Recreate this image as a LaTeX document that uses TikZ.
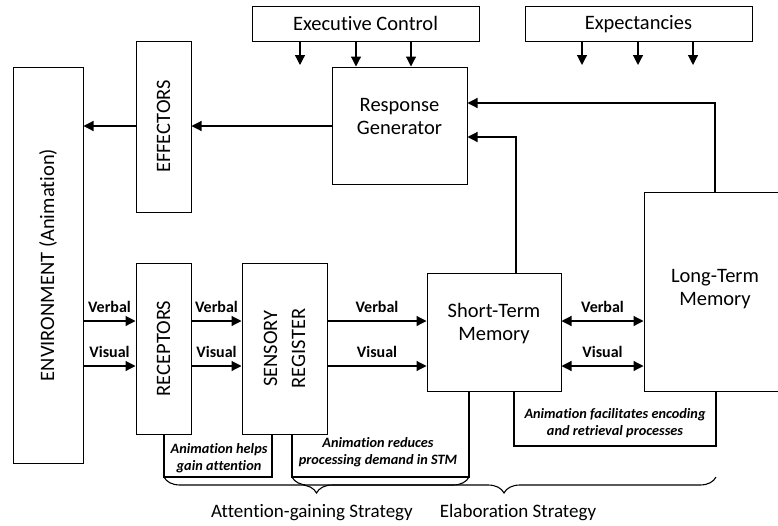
\documentclass[tikz,border=0pt]{standalone}
\usepackage{fontspec}
\setmainfont{Carlito}[Ligatures=NoCommon]
\usetikzlibrary{arrows.meta,decorations.pathreplacing}
\tikzset{
  box/.style={draw, line width=1pt, inner sep=0pt, fill=white},
  lbl/.style={font=\fontsize{20.5}{23.5}\selectfont, align=center, inner sep=0pt},
  vlbl/.style={font=\fontsize{20.5}{24}\selectfont, align=center, inner sep=0pt, rotate=90},
  chan/.style={font=\fontsize{16}{18}\selectfont\bfseries, inner sep=0pt},
  note/.style={font=\fontsize{14.3}{16.5}\selectfont\bfseries\itshape, align=center, inner sep=0pt},
  strat/.style={font=\fontsize{19}{22}\selectfont, inner sep=0pt},
  arr/.style={line width=1.2pt, -{Triangle[length=10pt,width=10pt]}},
  darr/.style={line width=1.2pt, {Triangle[length=10pt,width=10pt]}-{Triangle[length=10pt,width=10pt]}},
  ln/.style={line width=1.1pt},
  brc/.style={line width=1.1pt, decorate, decoration={brace, mirror, amplitude=16pt}},
}
\begin{document}
\begin{tikzpicture}[x=1pt, y=-1pt]
  \useasboundingbox (0,0) rectangle (778,525);

  % top control boxes
  \node[box, minimum width=227pt, minimum height=35pt] (exec) at (365.5,23.5) {};
  \node[lbl] (exectext) at (exec.center) {Executive Control};
  \node[box, minimum width=227pt, minimum height=35pt] (expect) at (638.5,23.5) {};
  \node[lbl] (expecttext) at (638.5,24.5) {Expectancies};

  % response generator
  \node[box, minimum width=135pt, minimum height=117pt] (rg) at (399.5,125.5) {};
  \node[lbl] (rgtext) at (399.5,116.5) {Response\\Generator};

  % effectors and environment
  \node[box, minimum width=55pt, minimum height=171pt] (eff) at (163.5,126.5) {};
  \node[vlbl] (efftext) at (eff.center) {EFFECTORS};
  \node[box, minimum width=70pt, minimum height=396pt] (env) at (48,265) {};
  \node[vlbl] (envtext) at (env.center) {ENVIRONMENT (Animation)};

  % receptors and sensory register
  \node[box, minimum width=55pt, minimum height=171pt] (rec) at (163.5,348.5) {};
  \node[vlbl] (rectext) at (rec.center) {RECEPTORS};
  \node[box, minimum width=85pt, minimum height=171pt] (sr) at (284.5,348.5) {};
  \node[vlbl, font=\fontsize{20.5}{28}\selectfont] (srtext) at (sr.center) {SENSORY\\REGISTER};

  % memories
  \node[box, minimum width=134pt, minimum height=118pt] (stm) at (494,332) {};
  \node[lbl] (stmtext) at (494,323.5) {Short-Term\\Memory};
  \node[box, minimum width=134pt, minimum height=199pt] (ltm) at (711,291.5) {};
  \node[lbl] (ltmtext) at (715,289) {Long-Term\\Memory};

  % free ends of the downward arrows
  \coordinate (e1) at (300,65);
  \coordinate (x1) at (582,65);
  \coordinate (x2) at (638,65);
  \coordinate (x3) at (693,65);

  % control arrows
  \draw[arr] (exec.south -| e1) -- (e1);
  \draw[arr] (exec.south -| 356,0) -- (rg.north -| 356,0);
  \draw[arr] (exec.south -| 411,0) -- (rg.north -| 411,0);
  \draw[arr] (expect.south -| x1) -- (x1);
  \draw[arr] (expect.south -| x2) -- (x2);
  \draw[arr] (expect.south -| x3) -- (x3);

  % output path
  \draw[arr] (rg.west |- 0,126) -- (eff.east |- 0,126);
  \draw[arr] (eff.west |- 0,126) -- (env.east |- 0,126);

  % feedback to response generator
  \draw[arr] (ltm.north -| 715,0) |- (rg.east |- 0,103);
  \draw[arr] (stm.north -| 516,0) |- (rg.east |- 0,137);

  % input channels
  \draw[arr] (env.east |- 0,321) -- node[chan, above=8pt] (v1) {Verbal} (rec.west |- 0,321);
  \draw[arr] (env.east |- 0,366) -- node[chan, above=8pt] (s1) {Visual} (rec.west |- 0,366);
  \draw[arr] (rec.east |- 0,321) -- node[chan, above=8pt] (v2) {Verbal} (sr.west |- 0,321);
  \draw[arr] (rec.east |- 0,366) -- node[chan, above=8pt] (s2) {Visual} (sr.west |- 0,366);
  \draw[arr] (sr.east |- 0,321) -- node[chan, above=8pt] (v3) {Verbal} (stm.west |- 0,321);
  \draw[arr] (sr.east |- 0,366) -- node[chan, above=8pt] (s3) {Visual} (stm.west |- 0,366);
  \draw[darr] (stm.east |- 0,321) -- node[chan, above=8pt] (v4) {Verbal} (ltm.west |- 0,321);
  \draw[darr] (stm.east |- 0,366) -- node[chan, above=8pt] (s4) {Visual} (ltm.west |- 0,366);

  % annotation brackets
  \draw[ln] (rec.south -| 164,0) -- (164,477) -- (272,477) -- (sr.south -| 272,0);
  \node[note] (n1) at (219,458) {Animation helps\\gain attention};
  \draw[ln] (sr.south -| 292,0) -- (292,477) -- (469,477) -- (stm.south -| 469,0);
  \node[note] (n2) at (378,452) {Animation reduces\\processing demand in STM};
  \draw[ln] (stm.south -| 514,0) -- (514,446) -- (716,446) -- (ltm.south -| 716,0);
  \node[note] (n3) at (615,423) {Animation facilitates encoding\\and retrieval processes};

  % strategy braces
  \draw[brc] (164,477) -- (469,477);
  \draw[brc] (292,477) -- (716,477);
  \node[strat] (st1) at (312,513) {Attention-gaining Strategy};
  \node[strat] (st2) at (518,513) {Elaboration Strategy};
\end{tikzpicture}
\end{document}
